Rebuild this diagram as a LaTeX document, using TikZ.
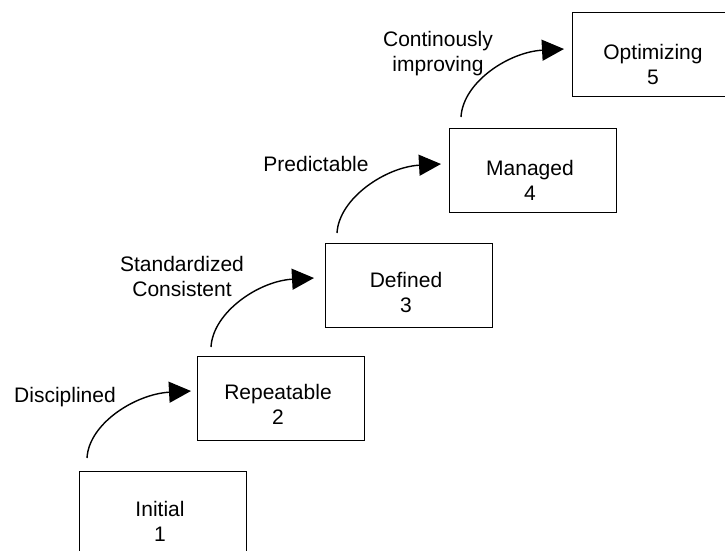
\documentclass[tikz,border=0pt]{standalone}
\usepackage{fontspec}
\setmainfont{Liberation Sans}
\usetikzlibrary{arrows.meta}
\begin{document}
\begin{tikzpicture}[x=1pt,y=-1pt,
  every node/.style={font=\fontsize{21}{25}\selectfont, inner sep=0pt},
  levelbox/.style={draw, line width=1.2pt, rectangle, minimum width=167pt, minimum height=84pt, anchor=north west},
  levellabel/.style={anchor=base},
  stepcurve/.style={line width=1.4pt, -{Triangle[length=22pt,width=21pt]}}]
  \useasboundingbox (0,0) rectangle (725,550);
  \clip (0,0) rectangle (725,550);
  \fill[white] (0,0) rectangle (725,550);

  % maturity level boxes
  \node[levelbox] (b1) at (79,471) {};
  \node[levelbox] (b2) at (197,356) {};
  \node[levelbox] (b3) at (325,243) {};
  \node[levelbox] (b4) at (449,128) {};
  \node[levelbox] (b5) at (572,12) {};

  % box captions
  \node[levellabel] (t1) at ([shift={(81,45.5)}]b1.north west) {\begin{tabular}[t]{@{}c@{}}Initial\\1\end{tabular}};
  \node[levellabel] (t2) at ([shift={(81,43)}]b2.north west) {\begin{tabular}[t]{@{}c@{}}Repeatable\\2\end{tabular}};
  \node[levellabel] (t3) at ([shift={(81,44)}]b3.north west) {\begin{tabular}[t]{@{}c@{}}Defined\\3\end{tabular}};
  \node[levellabel] (t4) at ([shift={(81,47.5)}]b4.north west) {\begin{tabular}[t]{@{}c@{}}Managed\\4\end{tabular}};
  \node[levellabel] (t5) at ([shift={(81,47.5)}]b5.north west) {\begin{tabular}[t]{@{}c@{}}Optimizing\\5\end{tabular}};

  % transition labels
  \node[levellabel] (l1) at (65,402.7) {Disciplined};
  \node[levellabel] (l2) at (182,271.7) {\begin{tabular}[t]{@{}c@{}}Standardized\\Consistent\end{tabular}};
  \node[levellabel] (l3) at (316,171.7) {Predictable};
  \node[levellabel] (l4) at (438,46.7) {\begin{tabular}[t]{@{}c@{}}Continously\\improving\end{tabular}};

  % curve end points
  \coordinate (s1) at ([shift={(8,-13)}]b1.north west);
  \coordinate (e1) at ([shift={(-6,35)}]b2.north west);
  \coordinate (s2) at ([shift={(14,-9)}]b2.north west);
  \coordinate (e2) at ([shift={(-11,35)}]b3.north west);
  \coordinate (s3) at ([shift={(12,-10)}]b3.north west);
  \coordinate (e3) at ([shift={(-8,36)}]b4.north west);
  \coordinate (s4) at ([shift={(12,-11)}]b4.north west);
  \coordinate (e4) at ([shift={(-8,37)}]b5.north west);

  % step-up arrows
  \foreach \i in {1,2,3,4}{
    \draw[stepcurve] (s\i) .. controls +(2,-35) and +(-55,3) .. (e\i);
  }
\end{tikzpicture}
\end{document}
